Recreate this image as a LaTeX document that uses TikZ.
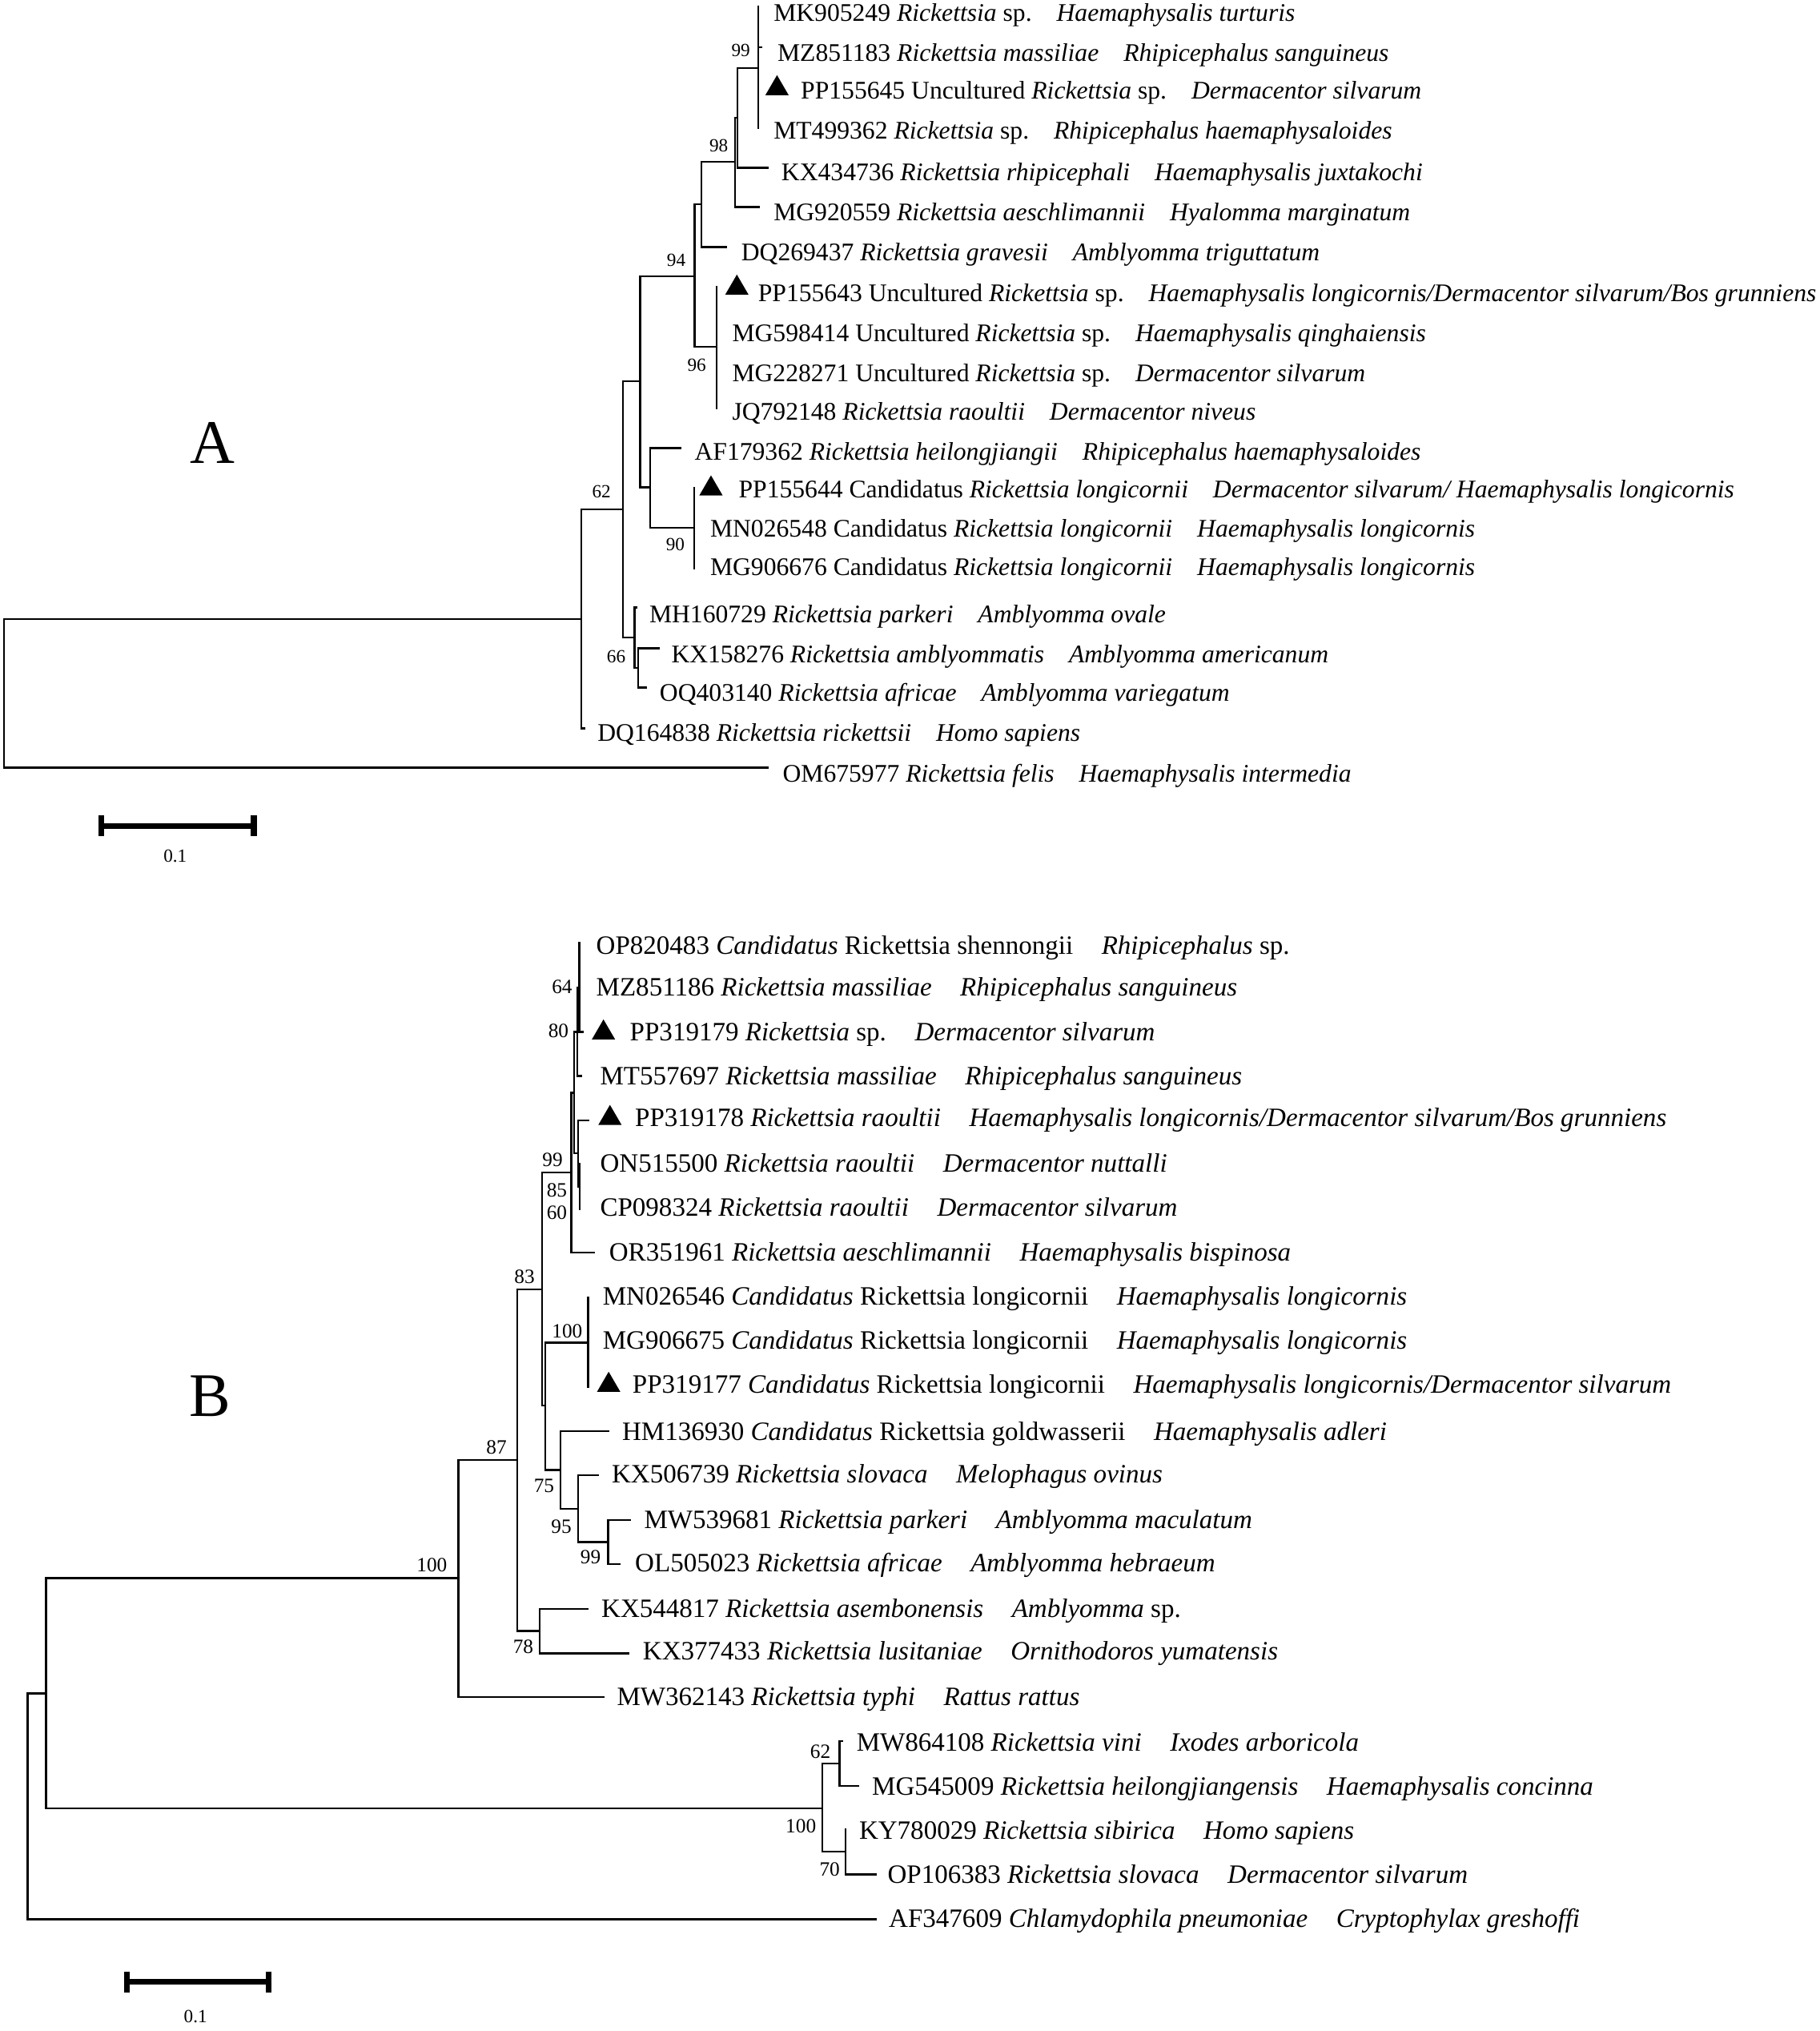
\documentclass[tikz,border=0pt]{standalone}
\usepackage{fontspec}
\setmainfont{Liberation Serif}
\newcommand\tipA[5]{\node[tA] (#1) at (#3,#2+6.5) {#4\hspace{8.8pt}#5};}
\newcommand\tipB[5]{\node[tB] (#1) at (#3,#2+6.7) {#4\hspace{10.1pt}#5};}
\newcommand\tri[2]{\fill (#1-9,#2+7.5) -- (#1+9,#2+7.5) -- (#1,#2-8) -- cycle;}
\newcommand\vl[3]{\draw[br] (#1,#2) -- (#1,#3);}
\newcommand\hl[3]{\draw[br] (#2,#1) -- (#3,#1);}
\begin{document}
\begin{tikzpicture}[x=0.01617cm,y=-0.01617cm,
  br/.style={line width=0.65pt,line cap=rect},
  tA/.style={anchor=base west,inner sep=0,font=\fontsize{9}{10}\selectfont},
  tB/.style={anchor=base west,inner sep=0,font=\fontsize{9.4}{10}\selectfont},
  bsA/.style={inner sep=0,font=\fontsize{6.6}{7}\selectfont},
  bsB/.style={inner sep=0,font=\fontsize{7.2}{8}\selectfont},
  sbar/.style={line width=2pt},
  panel/.style={inner sep=0,font=\fontsize{22}{24}\selectfont}]
\useasboundingbox (0,0) rectangle (1405,1568);
% ================= Panel A tree =================
\vl{3.1}{477.8}{592.7}
\hl{477.8}{3.1}{449} \hl{592.7}{3.1}{592.6}
\vl{449}{393.3}{562.3}
\hl{393.3}{449}{480.9} \hl{562.3}{449}{451.5}
\vl{480.9}{294.4}{492.3}
\hl{294.4}{480.9}{494.3} \hl{492.3}{480.9}{490}
\vl{490}{469}{515.6}
\hl{469}{490}{491.7} \hl{515.6}{490}{492.7}
\vl{492.7}{500.5}{530.8}
\hl{500.5}{492.7}{508.8} \hl{530.8}{492.7}{498.9}
\vl{494.3}{213.4}{376.2}
\hl{213.4}{494.3}{536.4} \hl{376.2}{494.3}{502}
\vl{502}{345.9}{407.5}
\hl{345.9}{502}{525.7} \hl{407.5}{502}{536}
\vl{536}{376.8}{439}
\vl{536.4}{157.7}{267.8}
\hl{157.7}{536.4}{541.7} \hl{267.8}{536.4}{553.5}
\vl{553.5}{221.6}{315.4}
\vl{541.7}{124.7}{190.7}
\hl{124.7}{541.7}{567.6} \hl{190.7}{541.7}{560.7}
\vl{567.6}{91}{159.8}
\hl{91}{567.6}{569.6} \hl{159.8}{567.6}{586}
\vl{569.6}{52.6}{129.5}
\hl{52.6}{569.6}{585.6} \hl{129.5}{569.6}{592.6}
\vl{585.6}{5}{99}
\hl{36.3}{585.6}{588}
% bootstrap A
\node[bsA] (bA1) at (572,38.8) {99};
\node[bsA] (bA2) at (555,112.4) {98};
\node[bsA] (bA3) at (522.2,201) {94};
\node[bsA] (bA4) at (538,282) {96};
\node[bsA] (bA5) at (464.4,379.3) {62};
\node[bsA] (bA6) at (521.5,420.5) {90};
\node[bsA] (bA7) at (475.8,506.7) {66};
% tips A
\tipA{a1}{10}{597}{MK905249 \textit{Rickettsia} sp.}{\textit{Haemaphysalis turturis}}
\tipA{a2}{41}{600}{MZ851183 \textit{Rickettsia massiliae}}{\textit{Rhipicephalus sanguineus}}
\tipA{a3}{70}{618}{PP155645 Uncultured \textit{Rickettsia} sp.}{\textit{Dermacentor silvarum}}
\tipA{a4}{101}{597}{MT499362 \textit{Rickettsia} sp.}{\textit{Rhipicephalus haemaphysaloides}}
\tipA{a5}{133}{603}{KX434736 \textit{Rickettsia rhipicephali}}{\textit{Haemaphysalis juxtakochi}}
\tipA{a6}{164}{597}{MG920559 \textit{Rickettsia aeschlimannii}}{\textit{Hyalomma marginatum}}
\tipA{a7}{195}{572}{DQ269437 \textit{Rickettsia gravesii}}{\textit{Amblyomma triguttatum}}
\tipA{a8}{226}{585}{PP155643 Uncultured \textit{Rickettsia} sp.}{\textit{Haemaphysalis longicornis/Dermacentor silvarum/Bos grunniens}}
\tipA{a9}{257}{565}{MG598414 Uncultured \textit{Rickettsia} sp.}{\textit{Haemaphysalis qinghaiensis}}
\tipA{a10}{288}{565}{MG228271 Uncultured \textit{Rickettsia} sp.}{\textit{Dermacentor silvarum}}
\tipA{a11}{318}{565}{JQ792148 \textit{Rickettsia raoultii}}{\textit{Dermacentor niveus}}
\tipA{a12}{349}{536}{AF179362 \textit{Rickettsia heilongjiangii}}{\textit{Rhipicephalus haemaphysaloides}}
\tipA{a13}{378}{570}{PP155644 Candidatus \textit{Rickettsia longicornii}}{\textit{Dermacentor silvarum/ Haemaphysalis longicornis}}
\tipA{a14}{408}{548}{MN026548 Candidatus \textit{Rickettsia longicornii}}{\textit{Haemaphysalis longicornis}}
\tipA{a15}{438}{548}{MG906676 Candidatus \textit{Rickettsia longicornii}}{\textit{Haemaphysalis longicornis}}
\tipA{a16}{474}{501}{MH160729 \textit{Rickettsia parkeri}}{\textit{Amblyomma ovale}}
\tipA{a17}{505}{518}{KX158276 \textit{Rickettsia amblyommatis}}{\textit{Amblyomma americanum}}
\tipA{a18}{535}{509}{OQ403140 \textit{Rickettsia africae}}{\textit{Amblyomma variegatum}}
\tipA{a19}{566}{461}{DQ164838 \textit{Rickettsia rickettsii}}{\textit{Homo sapiens}}
\tipA{a20}{597}{604}{OM675977 \textit{Rickettsia felis}}{\textit{Haemaphysalis intermedia}}
\tri{600}{66} \tri{569}{220} \tri{549}{375}
\node[panel] (pA) at (164,342) {A};
% scale bar A
\draw[sbar] (77.3,637.6) -- (196.6,637.6);
\draw[sbar] (78,629.6) -- (78,645.6);
\draw[sbar] (196,629.6) -- (196,645.6);
\node[bsA] (sA) at (135.3,661) {0.1};
% ================= Panel B tree =================
\vl{21.3}{1307.3}{1481.8}
\hl{1307.3}{21.3}{35.5} \hl{1481.8}{21.3}{676.2}
\vl{35.5}{1218.3}{1396.2}
\hl{1218.3}{35.5}{353.9} \hl{1396.2}{35.5}{634.9}
\vl{634.9}{1361.4}{1429.6}
\hl{1361.4}{634.9}{648.3} \hl{1429.6}{634.9}{653.1}
\vl{648.3}{1344}{1378.7}
\hl{1344}{648.3}{650.4} \hl{1378.7}{648.3}{662.8}
\vl{653.1}{1412.1}{1447.1}
\hl{1447.1}{653.1}{676.6}
\vl{353.9}{1127.2}{1310}
\hl{1127.2}{353.9}{399.5} \hl{1310}{353.9}{465.9}
\vl{399.5}{995.3}{1259.1}
\hl{995.3}{399.5}{418.5} \hl{1259.1}{399.5}{416.6}
\vl{416.6}{1242}{1276.4}
\hl{1242}{416.6}{453.5} \hl{1276.4}{416.6}{485.5}
\vl{418.5}{905.2}{1085.3}
\hl{905.2}{418.5}{441.1} \hl{1085.3}{418.5}{421.2}
\vl{421.2}{1036.5}{1134.8}
\hl{1036.5}{421.2}{454.1} \hl{1134.8}{421.2}{432.9}
\vl{454.1}{1001.9}{1070.9}
\vl{432.9}{1104.9}{1164.7}
\hl{1104.9}{432.9}{469.6} \hl{1164.7}{432.9}{446.3}
\vl{446.3}{1139}{1190.5}
\hl{1139}{446.3}{461.8} \hl{1190.5}{446.3}{469.6}
\vl{469.6}{1173.4}{1207.6}
\hl{1173.4}{469.6}{486.5} \hl{1207.6}{469.6}{478.7}
\vl{441.1}{843.6}{966.8}
\hl{843.6}{441.1}{443.2} \hl{966.8}{441.1}{458.7}
\vl{443.2}{796.7}{890.5}
\hl{796.7}{443.2}{445.9} \hl{890.5}{443.2}{446.5}
\vl{445.9}{762.7}{830.7}
\hl{762.7}{445.9}{447.3} \hl{830.7}{445.9}{449}
\vl{447.3}{727.7}{796.7}
\hl{796.7}{447.3}{449.8}
\vl{446.5}{864.8}{916.2}
\hl{864.8}{446.5}{454.5} \hl{916.2}{446.5}{447.5}
\vl{447.5}{898.6}{933.8}
% bootstrap B
\node[bsB] (bB1) at (434,761.7) {64};
\node[bsB] (bB2) at (431.2,795.7) {80};
\node[bsB] (bB3) at (426.7,895.7) {99};
\node[bsB] (bB4) at (430,919) {85};
\node[bsB] (bB5) at (430,936) {60};
\node[bsB] (bB6) at (405,985.4) {83};
\node[bsB] (bB7) at (438,1027.6) {100};
\node[bsB] (bB8) at (383.4,1117.3) {87};
\node[bsB] (bB9) at (420.1,1147.2) {75};
\node[bsB] (bB10) at (433.5,1178.7) {95};
\node[bsB] (bB11) at (456,1202.2) {99};
\node[bsB] (bB12) at (404,1271.5) {78};
\node[bsB] (bB13) at (333.5,1208.4) {100};
\node[bsB] (bB14) at (633.5,1352.3) {62};
\node[bsB] (bB15) at (618.4,1409.6) {100};
\node[bsB] (bB16) at (640.7,1443) {70};
% tips B
\tipB{b1}{730}{460}{OP820483 \textit{Candidatus} Rickettsia shennongii}{\textit{Rhipicephalus} sp.}
\tipB{b2}{762}{460}{MZ851186 \textit{Rickettsia massiliae}}{\textit{Rhipicephalus sanguineus}}
\tipB{b3}{797}{486}{PP319179 \textit{Rickettsia} sp.}{\textit{Dermacentor silvarum}}
\tipB{b4}{831}{463}{MT557697 \textit{Rickettsia massiliae}}{\textit{Rhipicephalus sanguineus}}
\tipB{b5}{863}{490}{PP319178 \textit{Rickettsia raoultii}}{\textit{Haemaphysalis longicornis/Dermacentor silvarum/Bos grunniens}}
\tipB{b6}{898}{463}{ON515500 \textit{Rickettsia raoultii}}{\textit{Dermacentor nuttalli}}
\tipB{b7}{932}{463}{CP098324 \textit{Rickettsia raoultii}}{\textit{Dermacentor silvarum}}
\tipB{b8}{967}{470}{OR351961 \textit{Rickettsia aeschlimannii}}{\textit{Haemaphysalis bispinosa}}
\tipB{b9}{1001}{465}{MN026546 \textit{Candidatus} Rickettsia longicornii}{\textit{Haemaphysalis longicornis}}
\tipB{b10}{1035}{465}{MG906675 \textit{Candidatus} Rickettsia longicornii}{\textit{Haemaphysalis longicornis}}
\tipB{b11}{1069}{488}{PP319177 \textit{Candidatus} Rickettsia longicornii}{\textit{Haemaphysalis longicornis/Dermacentor silvarum}}
\tipB{b12}{1105}{480}{HM136930 \textit{Candidatus} Rickettsia goldwasserii}{\textit{Haemaphysalis adleri}}
\tipB{b13}{1138}{472}{KX506739 \textit{Rickettsia slovaca}}{\textit{Melophagus ovinus}}
\tipB{b14}{1173}{497}{MW539681 \textit{Rickettsia parkeri}}{\textit{Amblyomma maculatum}}
\tipB{b15}{1207}{490}{OL505023 \textit{Rickettsia africae}}{\textit{Amblyomma hebraeum}}
\tipB{b16}{1242}{464}{KX544817 \textit{Rickettsia asembonensis}}{\textit{Amblyomma} sp.}
\tipB{b17}{1275}{496}{KX377433 \textit{Rickettsia lusitaniae}}{\textit{Ornithodoros yumatensis}}
\tipB{b18}{1310}{476}{MW362143 \textit{Rickettsia typhi}}{\textit{Rattus rattus}}
\tipB{b19}{1345}{661}{MW864108 \textit{Rickettsia vini}}{\textit{Ixodes arboricola}}
\tipB{b20}{1379}{673}{MG545009 \textit{Rickettsia heilongjiangensis}}{\textit{Haemaphysalis concinna}}
\tipB{b21}{1413}{663}{KY780029 \textit{Rickettsia sibirica}}{\textit{Homo sapiens}}
\tipB{b22}{1447}{685}{OP106383 \textit{Rickettsia slovaca}}{\textit{Dermacentor silvarum}}
\tipB{b23}{1481}{686}{AF347609 \textit{Chlamydophila pneumoniae}}{\textit{Cryptophylax greshoffi}}
\tri{466}{795} \tri{471}{861} \tri{470}{1067}
\node[panel] (pB) at (162,1078) {B};
% scale bar B
\draw[sbar] (97,1530) -- (208.2,1530);
\draw[sbar] (97.7,1522) -- (97.7,1538);
\draw[sbar] (207.5,1522) -- (207.5,1538);
\node[bsA] (sB) at (151,1557) {0.1};
\end{tikzpicture}
\end{document}
